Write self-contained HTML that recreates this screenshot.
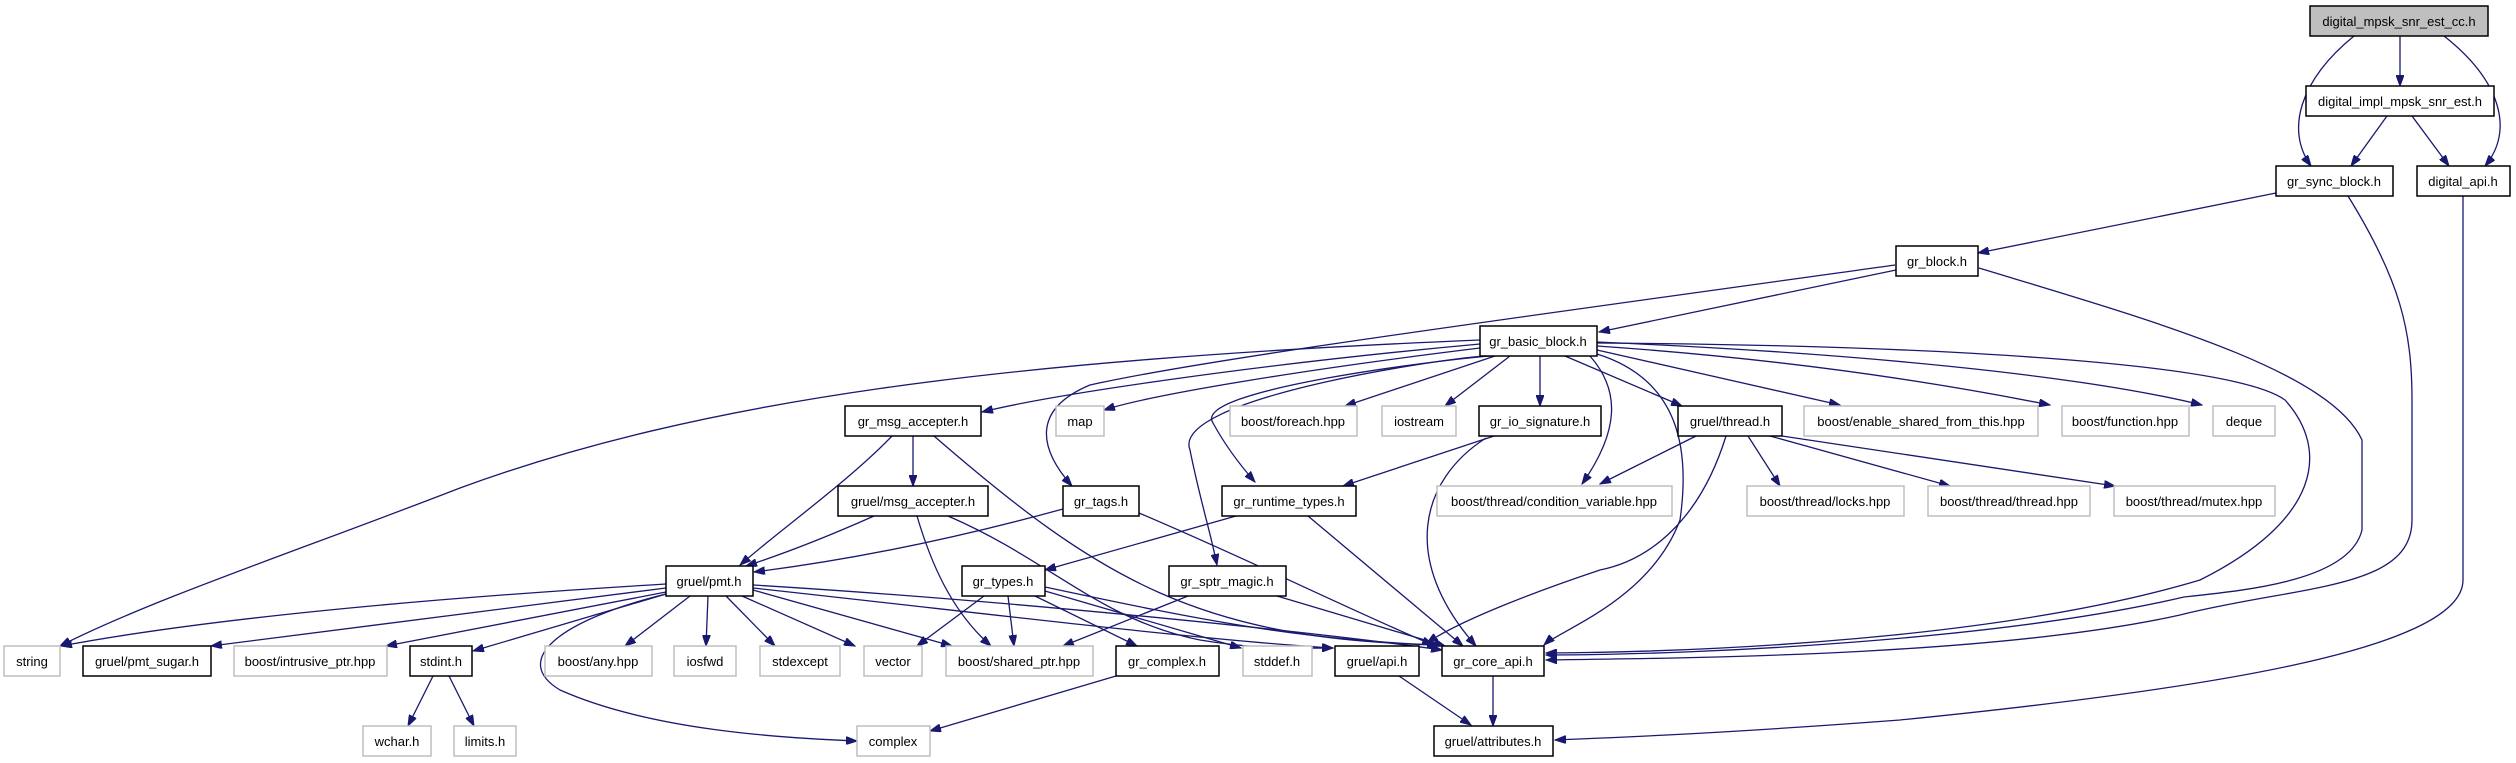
<!DOCTYPE html>
<html><head><meta charset="utf-8"><style>
html,body{margin:0;padding:0;background:#fff;width:2516px;height:763px;overflow:hidden}
svg text{font-family:"Liberation Sans",sans-serif;font-size:13px;fill:#000;text-anchor:middle}
.n{fill:#fff;stroke:#000;stroke-width:1.5}
.g{fill:#fff;stroke:#bfbfbf;stroke-width:1.5}
.e{fill:none;stroke:#191970;stroke-width:1.3;marker-end:url(#a)}
</style></head><body>
<svg width="2516" height="763" viewBox="0 0 2516 763" xmlns="http://www.w3.org/2000/svg">
<defs><marker id="a" markerUnits="userSpaceOnUse" markerWidth="12" markerHeight="8" refX="11" refY="4" orient="auto"><path d="M0,0 L11,4 L0,8 z" fill="#191970" stroke="#191970"/></marker></defs>
<g>
<path class="e" d="M2354,36 C2300,80 2285,130 2311,166"/>
<path class="e" d="M2400,36 L2400,86"/>
<path class="e" d="M2444,36 C2500,80 2515,130 2485,166"/>
<path class="e" d="M2387,116 L2351,166"/>
<path class="e" d="M2412,116 L2449,166"/>
<path class="e" d="M2276,193 L1978,253"/>
<path class="e" d="M2348,196 C2400,280 2412,330 2412,400 L2412,520 C2412,590 2300,585 2180,615 C2000,655 1700,658 1546,660"/>
<path class="e" d="M2463,196 L2463,580 C2463,650 2200,690 1900,720 C1700,735 1600,738 1555,740"/>
<path class="e" d="M1896,270 L1599,332"/>
<path class="e" d="M1895,265 C1500,320 1200,360 1090,385 C1030,410 1040,450 1072,486"/>
<path class="e" d="M1979,268 C2150,320 2330,370 2362,440 L2362,530 C2350,580 2250,590 2184,597 C2000,640 1700,655 1546,655"/>
<path class="e" d="M1597,343 C1900,345 2230,360 2285,400 C2330,450 2320,520 2200,580 C2000,640 1700,652 1546,653"/>
<path class="e" d="M1480,340 C1000,360 700,400 460,488 C300,550 150,600 60,646"/>
<path class="e" d="M1480,344 C1250,365 1050,395 982,412"/>
<path class="e" d="M1480,348 C1300,370 1150,395 1104,410"/>
<path class="e" d="M1495,356 L1345,406"/>
<path class="e" d="M1510,356 L1445,406"/>
<path class="e" d="M1540,356 L1540,406"/>
<path class="e" d="M1565,356 L1682,406"/>
<path class="e" d="M1597,350 L1840,405"/>
<path class="e" d="M1597,346 C1800,360 1950,385 2050,405"/>
<path class="e" d="M1597,342 C1900,355 2100,380 2202,405"/>
<path class="e" d="M1590,356 C1620,390 1620,430 1582,484"/>
<path class="e" d="M1490,356 C1440,360 1190,390 1213,423 C1225,445 1240,465 1255,482"/>
<path class="e" d="M1485,356 C1430,360 1170,400 1190,450 C1200,500 1210,530 1217,565"/>
<path class="e" d="M1597,354 C1680,380 1690,450 1680,520 C1650,600 1560,630 1544,645"/>
<path class="e" d="M913,436 L913,486"/>
<path class="e" d="M892,436 C850,480 780,530 740,565"/>
<path class="e" d="M934,436 C1100,580 1200,640 1440,645"/>
<path class="e" d="M874,516 C820,540 780,555 746,566"/>
<path class="e" d="M917,516 C930,560 950,610 991,646"/>
<path class="e" d="M948,516 C1050,560 1100,620 1200,640 C1260,650 1300,648 1333,648"/>
<path class="e" d="M1063,509 C950,540 850,560 754,572"/>
<path class="e" d="M1139,513 C1250,560 1350,610 1433,645"/>
<path class="e" d="M1236,516 L1045,570"/>
<path class="e" d="M1308,516 L1463,646"/>
<path class="e" d="M1494,436 L1343,486"/>
<path class="e" d="M1486,438 C1420,480 1400,560 1476,646"/>
<path class="e" d="M1696,436 L1600,484"/>
<path class="e" d="M1748,436 L1780,486"/>
<path class="e" d="M1770,436 L1950,486"/>
<path class="e" d="M1782,436 L2115,486"/>
<path class="e" d="M1726,436 C1700,520 1650,560 1600,570 C1540,590 1460,620 1427,643"/>
<path class="e" d="M984,596 L917,646"/>
<path class="e" d="M1008,596 L1014,646"/>
<path class="e" d="M1035,596 L1137,646"/>
<path class="e" d="M1045,591 L1241,648"/>
<path class="e" d="M1045,587 C1200,620 1300,640 1438,645"/>
<path class="e" d="M1188,596 L1063,646"/>
<path class="e" d="M1277,596 L1445,646"/>
<path class="e" d="M666,584 C400,600 200,620 61,646"/>
<path class="e" d="M666,588 L211,646"/>
<path class="e" d="M666,592 L386,646"/>
<path class="e" d="M666,594 L473,651"/>
<path class="e" d="M690,596 L625,646"/>
<path class="e" d="M708,596 L706,646"/>
<path class="e" d="M726,596 L775,646"/>
<path class="e" d="M742,596 L855,646"/>
<path class="e" d="M753,590 L952,646"/>
<path class="e" d="M753,588 C1000,615 1200,640 1333,648"/>
<path class="e" d="M753,585 C1000,600 1300,630 1442,650"/>
<path class="e" d="M666,594 C560,620 510,660 560,690 C650,730 780,738 857,741"/>
<path class="e" d="M433,676 L408,726"/>
<path class="e" d="M449,676 L474,726"/>
<path class="e" d="M1116,676 L930,731"/>
<path class="e" d="M1399,676 L1471,725"/>
<path class="e" d="M1493,676 L1493,726"/>
</g>
<g>
<rect x="2310" y="6" width="178" height="30" fill="#bfbfbf" stroke="#000" stroke-width="1.5"/><text x="2399" y="26">digital_mpsk_snr_est_cc.h</text>
<rect class="n" x="2306" y="86" width="188" height="30"/><text x="2400" y="106">digital_impl_mpsk_snr_est.h</text>
<rect class="n" x="2276" y="166" width="117" height="30"/><text x="2334" y="186">gr_sync_block.h</text>
<rect class="n" x="2417" y="166" width="93" height="30"/><text x="2463" y="186">digital_api.h</text>
<rect class="n" x="1896" y="246" width="82" height="30"/><text x="1937" y="266">gr_block.h</text>
<rect class="n" x="1480" y="326" width="117" height="30"/><text x="1538" y="346">gr_basic_block.h</text>

<rect class="n" x="845" y="406" width="136" height="30"/><text x="913" y="426">gr_msg_accepter.h</text>
<rect class="g" x="1056" y="406" width="48" height="30"/><text x="1080" y="426">map</text>
<rect class="g" x="1230" y="406" width="127" height="30"/><text x="1293" y="426">boost/foreach.hpp</text>
<rect class="g" x="1382" y="406" width="74" height="30"/><text x="1419" y="426">iostream</text>
<rect class="n" x="1479" y="406" width="122" height="30"/><text x="1540" y="426">gr_io_signature.h</text>
<rect class="n" x="1678" y="406" width="104" height="30"/><text x="1730" y="426">gruel/thread.h</text>
<rect class="g" x="1804" y="406" width="234" height="30"/><text x="1921" y="426">boost/enable_shared_from_this.hpp</text>
<rect class="g" x="2062" y="406" width="127" height="30"/><text x="2125" y="426">boost/function.hpp</text>
<rect class="g" x="2213" y="406" width="62" height="30"/><text x="2244" y="426">deque</text>

<rect class="n" x="838" y="486" width="150" height="30"/><text x="913" y="506">gruel/msg_accepter.h</text>
<rect class="n" x="1063" y="486" width="76" height="30"/><text x="1101" y="506">gr_tags.h</text>
<rect class="n" x="1222" y="486" width="134" height="30"/><text x="1289" y="506">gr_runtime_types.h</text>
<rect class="g" x="1437" y="486" width="235" height="30"/><text x="1554" y="506">boost/thread/condition_variable.hpp</text>
<rect class="g" x="1747" y="486" width="157" height="30"/><text x="1825" y="506">boost/thread/locks.hpp</text>
<rect class="g" x="1928" y="486" width="162" height="30"/><text x="2009" y="506">boost/thread/thread.hpp</text>
<rect class="g" x="2114" y="486" width="161" height="30"/><text x="2194" y="506">boost/thread/mutex.hpp</text>

<rect class="n" x="666" y="566" width="87" height="30"/><text x="709" y="586">gruel/pmt.h</text>
<rect class="n" x="962" y="566" width="83" height="30"/><text x="1003" y="586">gr_types.h</text>
<rect class="n" x="1169" y="566" width="117" height="30"/><text x="1227" y="586">gr_sptr_magic.h</text>

<rect class="g" x="4" y="646" width="56" height="30"/><text x="32" y="666">string</text>
<rect class="n" x="83" y="646" width="128" height="30"/><text x="147" y="666">gruel/pmt_sugar.h</text>
<rect class="g" x="234" y="646" width="153" height="30"/><text x="310" y="666">boost/intrusive_ptr.hpp</text>
<rect class="n" x="410" y="646" width="62" height="30"/><text x="441" y="666">stdint.h</text>
<rect class="g" x="545" y="646" width="107" height="30"/><text x="598" y="666">boost/any.hpp</text>
<rect class="g" x="674" y="646" width="62" height="30"/><text x="705" y="666">iosfwd</text>
<rect class="g" x="760" y="646" width="80" height="30"/><text x="800" y="666">stdexcept</text>
<rect class="g" x="864" y="646" width="58" height="30"/><text x="893" y="666">vector</text>
<rect class="g" x="946" y="646" width="147" height="30"/><text x="1019" y="666">boost/shared_ptr.hpp</text>
<rect class="n" x="1116" y="646" width="103" height="30"/><text x="1167" y="666">gr_complex.h</text>
<rect class="g" x="1243" y="646" width="69" height="30"/><text x="1277" y="666">stddef.h</text>
<rect class="n" x="1335" y="646" width="84" height="30"/><text x="1377" y="666">gruel/api.h</text>
<rect class="n" x="1442" y="646" width="102" height="30"/><text x="1493" y="666">gr_core_api.h</text>

<rect class="g" x="363" y="726" width="68" height="30"/><text x="397" y="746">wchar.h</text>
<rect class="g" x="454" y="726" width="62" height="30"/><text x="485" y="746">limits.h</text>
<rect class="g" x="857" y="726" width="73" height="30"/><text x="893" y="746">complex</text>
<rect class="n" x="1434" y="726" width="119" height="30"/><text x="1493" y="746">gruel/attributes.h</text>
</g>
</svg>
</body></html>
